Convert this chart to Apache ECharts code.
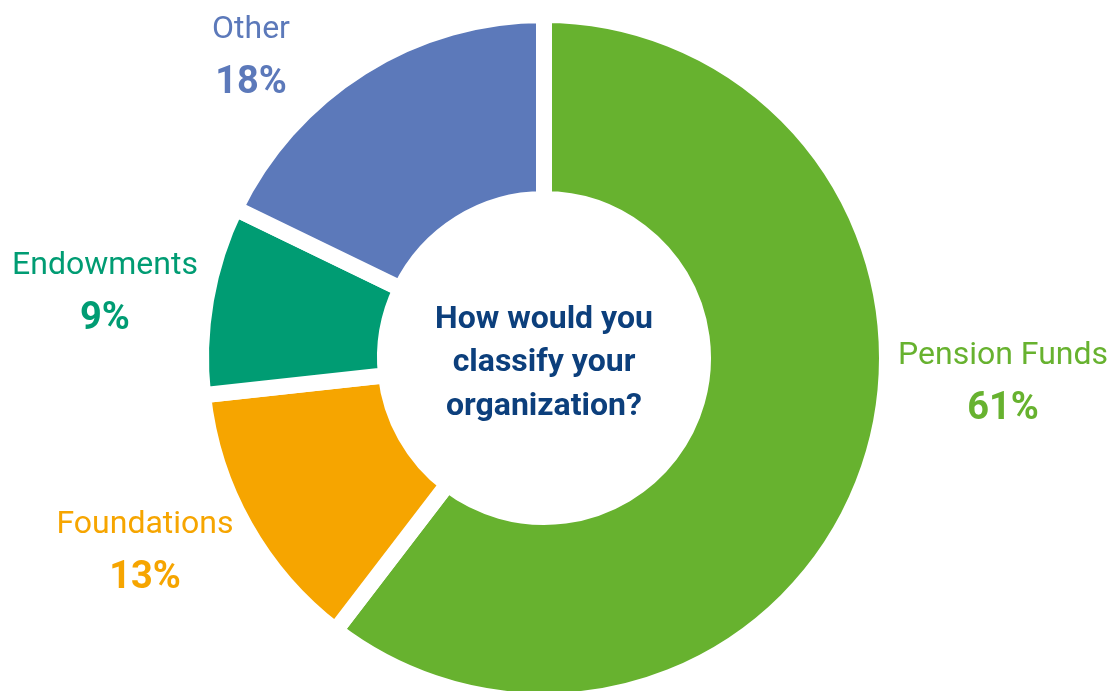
<!DOCTYPE html>
<html>
<head>
<meta charset="utf-8">
<script src="https://cdn.jsdelivr.net/npm/echarts@6/dist/echarts.min.js"></script>
<style>
  html, body { margin: 0; padding: 0; background: #ffffff; }
  #chart { width: 1115px; height: 691px; }
</style>
</head>
<body>
<div id="chart"></div>
<script>
// Survey answers: share of respondents by organization type
const categories = ['Pension Funds', 'Foundations', 'Endowments', 'Other'];
const shares = [61, 13, 9, 18];
const sliceColors = ['#67b22f', '#f6a500', '#009c73', '#5c79ba'];
const question = 'How would you\nclassify your\norganization?';

// Label anchor points (centre of the name line), one per slice
const labelAnchors = [
  [1003, 356],
  [145, 525],
  [105, 266],
  [251, 30]
];

const chart = echarts.init(document.getElementById('chart'));

chart.setOption({
  backgroundColor: '#ffffff',
  animation: false,
  title: {
    text: question,
    left: 544,
    top: 298,
    textAlign: 'center',
    padding: 0,
    textStyle: {
      fontFamily: 'Roboto',
      fontWeight: 'bold',
      fontSize: 32,
      lineHeight: 43.5,
      color: '#0c3f7c'
    }
  },
  series: [{
    type: 'pie',
    center: [544, 358],
    radius: [159, 343],
    startAngle: 90,
    clockwise: true,
    silent: true,
    itemStyle: {
      borderColor: '#ffffff',
      borderWidth: 16
    },
    labelLine: { show: false },
    label: {
      show: true,
      position: 'outside',
      overflow: 'none',
      formatter: p => '{n|' + p.name + '}\n{v|' + shares[p.dataIndex] + '%}'
    },
    labelLayout: p => ({
      x: labelAnchors[p.dataIndex][0],
      y: labelAnchors[p.dataIndex][1] - 24,
      align: 'center',
      verticalAlign: 'top'
    }),
    data: categories.map((name, i) => ({
      name: name,
      value: shares[i],
      itemStyle: { color: sliceColors[i] },
      label: {
        rich: {
          n: {
            fontFamily: 'Roboto',
            fontSize: 32,
            lineHeight: 48,
            color: sliceColors[i],
            align: 'center'
          },
          v: {
            fontFamily: 'Roboto',
            fontWeight: 'bold',
            fontSize: 38,
            lineHeight: 58,
            color: sliceColors[i],
            align: 'center'
          }
        }
      }
    }))
  }]
});
</script>
</body>
</html>
